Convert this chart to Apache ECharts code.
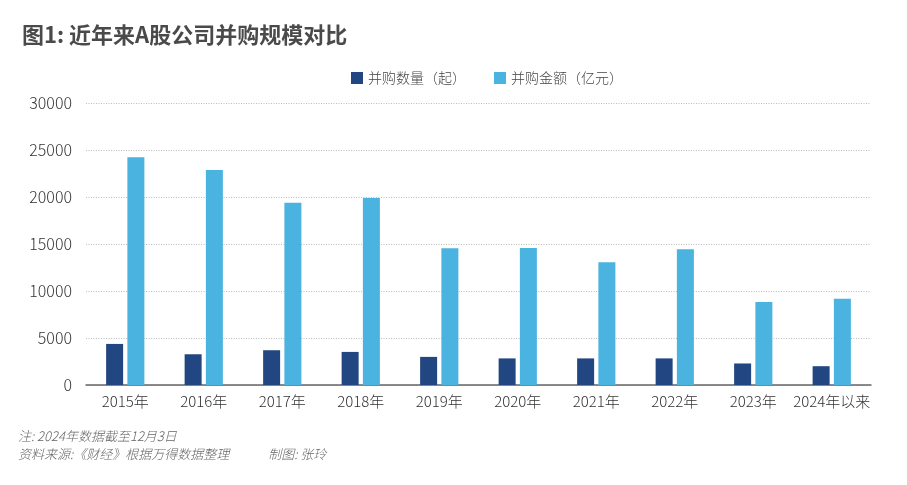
<!DOCTYPE html>
<html><head><meta charset="utf-8">
<script src="https://cdn.jsdelivr.net/npm/echarts@6/dist/echarts.min.js"></script>
<style>html,body{margin:0;padding:0;background:#fff}#c{width:907px;height:485px}</style>
</head><body><div id="c"></div>
<script>
const categories = ['2015年','2016年','2017年','2018年','2019年','2020年','2021年','2022年','2023年','2024年以来'];
const dealCount = [4370, 3270, 3700, 3520, 2990, 2830, 2830, 2830, 2290, 2000];
const dealValue = [24240, 22860, 19400, 19900, 14540, 14570, 13050, 14430, 8830, 9180];
const seriesNames = ['并购数量（起）', '并购金额（亿元）'];
const titleText = '图1: 近年来A股公司并购规模对比';
const noteLines = ['注: 2024年数据截至12月3日', '资料来源:《财经》根据万得数据整理　　　制图: 张玲'];

const font = '"Noto Sans CJK SC", "Noto Sans", sans-serif';
const chart = echarts.init(document.getElementById('c'));
chart.setOption({
  animation: false,
  backgroundColor: '#fff',
  title: {
    text: titleText, left: 17, top: 19,
    textStyle: {fontFamily: font, fontSize: 22, fontWeight: 'bold', color: '#4a4a4a'}
  },
  legend: {
    top: 66, left: 346, itemWidth: 12, itemHeight: 12, itemGap: 28,
    icon: 'rect',
    textStyle: {fontFamily: font, fontSize: 14, color: '#444', fontWeight: 300},
    data: seriesNames
  },
  graphic: [
    {type: 'text', left: 18, top: 430, style: {text: noteLines[0], font: 'italic 300 13px ' + font, fill: '#666'}},
    {type: 'text', left: 18, top: 448, style: {text: noteLines[1], font: 'italic 300 13px ' + font, fill: '#666'}}
  ],
  grid: {left: 86, right: 36, top: 103, bottom: 100, containLabel: false},
  xAxis: {
    type: 'category', data: categories,
    axisLine: {lineStyle: {color: '#666', width: 1.5}},
    axisTick: {show: false},
    axisLabel: {fontFamily: font, fontSize: 15, color: '#333', margin: 9, interval: 0, fontWeight: 300}
  },
  yAxis: {
    type: 'value', min: 0, max: 30000, interval: 5000,
    axisLine: {show: false}, axisTick: {show: false},
    axisLabel: {fontFamily: font, fontSize: 16, color: '#333', margin: 14, fontWeight: 300, formatter: v => String(v)},
    splitLine: {lineStyle: {color: '#bbb', type: [1, 1.5], width: 1}}
  },
  series: [
    {name: seriesNames[0], type: 'bar', data: dealCount, barWidth: 17, barGap: '25%', itemStyle: {color: '#224682'}},
    {name: seriesNames[1], type: 'bar', data: dealValue, barWidth: 17, itemStyle: {color: '#4bb3df'}}
  ]
});
</script></body></html>
